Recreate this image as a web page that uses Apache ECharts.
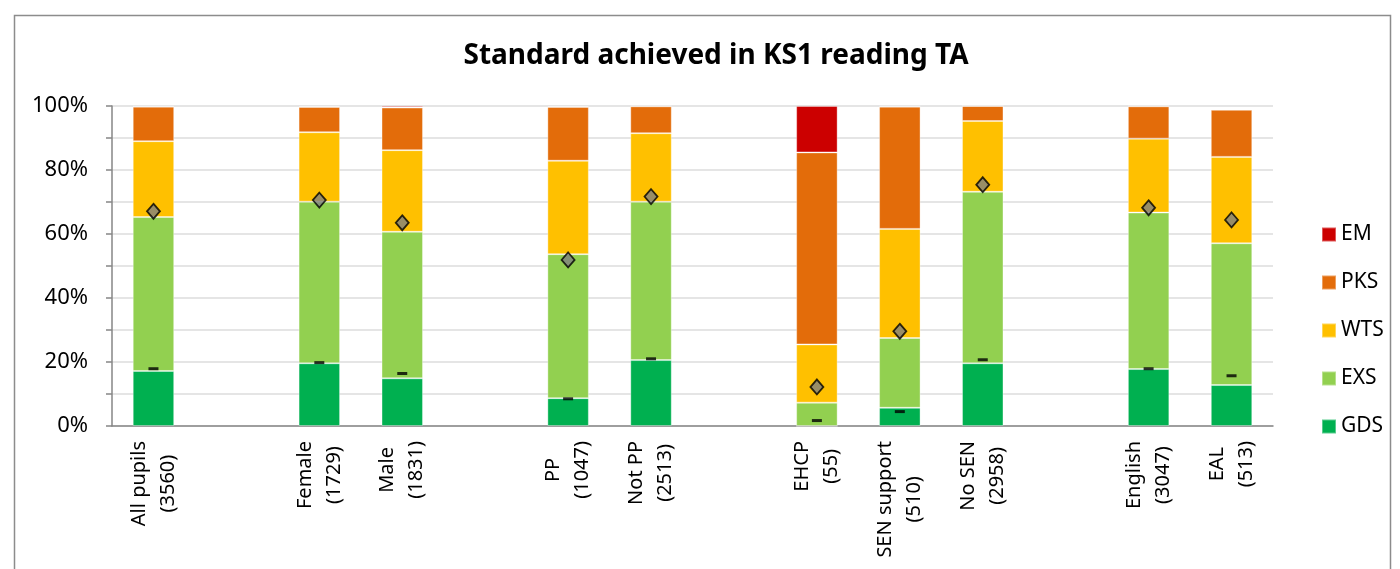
<!DOCTYPE html>
<html>
<head>
<meta charset="utf-8">
<title>Standard achieved in KS1 reading TA</title>
<script src="https://cdn.jsdelivr.net/npm/echarts@6/dist/echarts.min.js"></script>
<style>
  html, body { margin: 0; padding: 0; background: #fff; }
  #chart { width: 1400px; height: 569px; }
</style>
</head>
<body>
<div id="chart"></div>
<script>
// blank entries are the gaps between groups
const categories = [
  'All pupils\n(3560)', ' ', 'Female\n(1729)', 'Male\n(1831)', '  ',
  'PP\n(1047)', 'Not PP\n(2513)', '   ',
  'EHCP\n(55)', 'SEN support\n(510)', 'No SEN\n(2958)', '    ',
  'English\n(3047)', 'EAL\n(513)'
]

// percentages
const gds = [17.2, '-', 19.6, 14.9, '-', 8.7, 20.6, '-', 0, 5.7, 19.6, '-', 17.8, 12.8]
const exs = [48.1, '-', 50.5, 45.8, '-', 45.0, 49.5, '-', 7.3, 21.8, 53.6, '-', 48.9, 44.3]
const wts = [23.7, '-', 21.7, 25.5, '-', 29.2, 21.4, '-', 18.2, 34.1, 22.1, '-', 23.1, 27.0]
const pks = [10.8, '-', 7.9, 13.3, '-', 16.8, 8.4, '-', 60.0, 38.2, 4.7, '-', 10.1, 14.7]
const em = [0.2, '-', 0.3, 0.5, '-', 0.3, 0.1, '-', 14.5, 0.2, 0, '-', 0.1, 0.2]

// comparison markers
const diamondMarks = [67.1, '-', 70.6, 63.5, '-', 51.9, 71.7, '-', 12.2, 29.6, 75.4, '-', 68.2, 64.4]
const dashMarks = [17.9, '-', 19.8, 16.4, '-', 8.5, 21.0, '-', 1.7, 4.5, 20.7, '-', 17.9, 15.7]

const yTicks = [0, 20, 40, 60, 80, 100]

const fontFamily = '"Noto Sans", "Open Sans", sans-serif'

const chart = echarts.init(document.getElementById('chart'))

const barSeries = (name, data, color) => ({
  name,
  type: 'bar',
  stack: 'total',
  data,
  barWidth: '50%',
  itemStyle: {
    color,
    borderColor: 'rgba(255,255,255,0.35)',
    borderWidth: 1
  },
  emphasis: { disabled: true }
})

const option = {
  animation: false,
  textStyle: { fontFamily },
  title: {
    text: 'Standard achieved in KS1 reading TA',
    left: 711,
    top: 37,
    textAlign: 'center',
    textStyle: {
      fontFamily,
      fontSize: 28,
      fontWeight: 'bold',
      color: '#000'
    }
  },
  legend: {
    orient: 'vertical',
    left: 1316,
    top: 219,
    itemWidth: 14,
    itemHeight: 14,
    itemGap: 27,
    icon: 'rect',
    data: ['EM', 'PKS', 'WTS', 'EXS', 'GDS'],
    textStyle: { fontFamily, fontSize: 21, color: '#000', padding: [0, 0, 0, 0] }
  },
  grid: {
    left: 112,
    right: 127,
    top: 106,
    bottom: 143
  },
  xAxis: {
    type: 'category',
    data: categories,
    axisLine: { lineStyle: { color: '#868686', width: 1.5 } },
    axisTick: { length: 7, lineStyle: { color: '#868686', width: 1.5 } },
    axisLabel: {
      interval: 0,
      rotate: 90,
      margin: 15,
      color: '#000',
      formatter: (v) => v.trim() ? v.split('\n').map(l => '{c|' + l + '}').join('\n') : '',
      rich: {
        c: { align: 'center', fontFamily, fontSize: 20, lineHeight: 29, color: '#000' }
      }
    }
  },
  yAxis: {
    type: 'value',
    min: 0,
    max: 100,
    interval: 10,
    axisLine: { show: true, lineStyle: { color: '#868686', width: 1.5 } },
    axisTick: { show: true, length: 6, lineStyle: { color: '#868686', width: 1.5 } },
    axisLabel: {
      margin: 24,
      fontSize: 22,
      color: '#000',
      formatter: (v) => yTicks.includes(v) ? v + '%' : ''
    },
    splitLine: { lineStyle: { color: '#DCDCDC', width: 1.5 } }
  },
  series: [
    barSeries('GDS', gds, '#00B050'),
    barSeries('EXS', exs, '#92D050'),
    barSeries('WTS', wts, '#FFC000'),
    barSeries('PKS', pks, '#E36C0A'),
    barSeries('EM', em, '#CC0000'),
    {
      name: 'marker',
      type: 'scatter',
      data: diamondMarks,
      symbol: 'diamond',
      symbolSize: [13, 15],
      itemStyle: { color: '#808080', borderColor: '#000', borderWidth: 1.8 },
      z: 5,
      emphasis: { disabled: true }
    },
    {
      name: 'dash',
      type: 'scatter',
      data: dashMarks,
      symbol: 'rect',
      symbolSize: [10, 3],
      itemStyle: { color: '#000' },
      z: 5,
      emphasis: { disabled: true }
    }
  ],
  graphic: [
    {
      type: 'rect',
      left: 12,
      top: 13,
      shape: { width: 1376, height: 600 },
      style: { fill: 'none', stroke: '#8C8C8C', lineWidth: 1.5 },
      silent: true
    }
  ]
}

chart.setOption(option)
window.addEventListener('resize', () => chart.resize())
</script>
</body>
</html>
